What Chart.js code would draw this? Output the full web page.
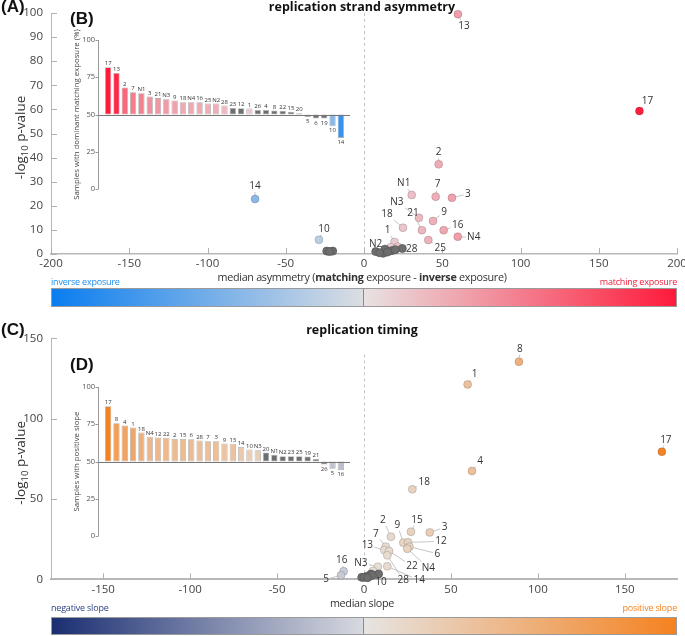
<!DOCTYPE html>
<html>
<head>
<meta charset="utf-8">
<script src="https://cdn.jsdelivr.net/npm/chart.js@4.4.1/dist/chart.umd.min.js"></script>
<style>
    body { margin: 0; background: #fff; font-family: 'Open Sans', sans-serif; }
    #fig { position: relative; width: 685px; height: 636px; overflow: hidden; }
    #fig canvas { position: absolute; }
    .txt { position: absolute; white-space: nowrap; color: #333; line-height: 14px; }
    .letter { font: bold 17px 'Liberation Sans', Arial, sans-serif; color: #111; line-height: 18px; }
    .ttl { left: 0; width: 724px; text-align: center; font-weight: bold; font-size: 12.5px; color: #111; }
    .xt { left: 0; width: 724px; text-align: center; font-size: 10.8px; letter-spacing: -0.3px; }
    .leg { font-size: 9px; letter-spacing: -0.2px; }
    .cbar { position: absolute; left: 51px; width: 626px; height: 19px; border: 1px solid #9a9a9a; box-sizing: border-box; }
    .cbar .mid { position: absolute; left: 311px; top: 0; width: 1px; height: 100%; background: #8a8a8a; }
</style>
</head>
<body>
<div id="fig">
    <canvas id="strandScatter" width="685" height="275" style="left:0;top:0"></canvas>
    <canvas id="strandBars" width="360" height="200" style="left:0;top:0"></canvas>
    <canvas id="timingScatter" width="685" height="280" style="left:0;top:320px"></canvas>
    <canvas id="timingBars" width="360" height="200" style="left:0;top:347px"></canvas>

    <div class="txt letter" style="left:1px;top:-2px">(A)</div>
    <div class="txt letter" style="left:70px;top:10px">(B)</div>
    <div class="txt letter" style="left:1px;top:321px">(C)</div>
    <div class="txt letter" style="left:70px;top:356px">(D)</div>

    <div class="txt ttl" style="top:0px">replication strand asymmetry</div>
    <div class="txt ttl" style="top:323px">replication timing</div>

    <div class="txt xt" style="top:270px">median asymmetry (<b>matching</b> exposure - <b>inverse</b> exposure)</div>
    <div class="txt leg" style="left:51px;top:275px;color:#1a8cf0">inverse exposure</div>
    <div class="txt leg" style="right:8px;top:275px;color:#f0203c">matching exposure</div>
    <div class="cbar" style="top:288px;background:linear-gradient(to right,#0a7df0 0%,#dcdee2 50%,#e8e2e2 50%,#ff1a3a 100%)"><div class="mid"></div></div>

    <div class="txt xt" style="top:596px">median slope</div>
    <div class="txt leg" style="left:51px;top:601px;color:#2b3f80">negative slope</div>
    <div class="txt leg" style="right:8px;top:601px;color:#f5821f">positive slope</div>
    <div class="cbar" style="top:617px;height:18px;background:linear-gradient(to right,#1a2e72 0%,#d8dae0 50%,#e6e4e2 50%,#f58220 100%)"><div class="mid"></div></div>
</div>

<script>
// panel A: replication strand asymmetry
const strandLabels = ['13', '17', '2', 'N1', '7', '3', 'N3', '9', '21', '18', '16', 'N4', '25', '1', 'N2', '28', '14', '10',
    '5', '6', '19', '23', '12', '26', '4', '8', '22', '15', '20'];
const strandX = [60, 176, 47.7, 30.5, 45.8, 56.2, 35.1, 44.1, 37, 24.9, 50.9, 59.9, 41.1, 19.5, 17, 21.5, -69.6, -28.8,
    -23.8, -20, -22, 7.5, 12.3, 13.4, 17.7, 24.5, 15, 20, 10];
const strandY = [99.5, 59.3, 37.2, 24.5, 23.8, 23.3, 15, 13.7, 9.9, 10.9, 9.9, 7.2, 5.8, 5.0, 2.8, 3.0, 22.8, 5.9,
    1.2, 1.2, 1.0, 1, 0.3, 2, 1.4, 2.3, 0.8, 1.8, 0.5];
const strandNonSig = ['23', '12', '26', '4', '8', '22', '15', '20', '5', '6', '19'];

// panel B: samples with dominant matching exposure (%)
const strandBarLabels = ['17', '13', '2', '7', 'N1', '3', '21', 'N3', '9', '18', 'N4', '16', '25', 'N2', '28',
    '23', '12', '1', '26', '4', '8', '22', '15', '20', '5', '6', '19', '10', '14'];
const strandBarPct = [81.7, 77.9, 68.1, 65, 64.3, 62.1, 61, 60.3, 59.4, 58.3, 58.3, 58.3, 57.4, 57.4, 56,
    54.4, 54.2, 54, 53.1, 53.1, 52.7, 52.5, 51.8, 50.9, 48.4, 47.3, 47.3, 42.1, 34.3];

// panel C: replication timing
const timingLabels = ['8', '1', '17', '4', '18', '15', '3', '2', '9', '12', '6', 'N4', '7', '13', '22', '28', '14', 'N3', '10', '16', '5',
    '20', 'N1', 'N2', '23', '25', '19', '21', '26'];
const timingX = [89.1, 59.6, 171.3, 62.1, 27.8, 27, 37.8, 15.5, 22.6, 25.3, 26.1, 24.9, 12.5, 11.7, 14.4, 13.4, 13.4, 8, 5.2, -11.7, -13.2,
    8.4, 4, 1.2, -1.3, 2.9, 0, 4.8, 2];
const timingY = [135.4, 121.3, 79.4, 67.4, 56, 29.6, 29.2, 26.5, 22.8, 23, 20.3, 19, 20.3, 18.2, 17.6, 14.9, 8.1, 7.8, 5.2, 5, 2.5,
    3.3, 3.3, 1.7, 1.2, 1.7, 1.2, 2.5, 1];
const timingNonSig = ['20', 'N1', 'N2', '23', '25', '19', '21', '26'];

// panel D: samples with positive slope (%)
const timingBarLabels = ['17', '8', '4', '1', '18', 'N4', '12', '22', '2', '15', '6', '28', '7', '3', '9', '13', '14', '10', 'N3',
    '20', 'N1', 'N2', '23', '25', '19', '21', '26', '5', '16'];
const timingBarPct = [87.1, 75.7, 74.2, 72.8, 69.5, 66.6, 66.1, 65.9, 65.2, 65.2, 65, 64.1, 63.6, 63.6, 62.1, 61.9, 59.8, 58.1, 57.6,
    56, 54.5, 53.6, 53.6, 53.6, 53.4, 51.6, 48, 45.1, 44.2];

// label placement (pixels from the point)
const strandLabelOffsets = {
    '13': [6, 12], '17': [8, -10], '2': [0, -12], 'N1': [-8, -12], '7': [2, -12], '3': [16, -4], 'N3': [-22, -16],
    '9': [11, -9], '21': [-9, -17], '18': [-16, -14], '16': [14, -5], 'N4': [16, 1], '25': [12, 8], '1': [-7, -12],
    'N2': [-15, -3], '28': [14, 2], '14': [0, -13], '10': [5, -11]
};
const timingLabelOffsets = {
    '8': [1, -13], '1': [7, -10], '17': [4, -12], '4': [8, -10], '18': [12, -7], '15': [6, -12], '3': [15, -5],
    '2': [-8, -17], '9': [-6, -18], '12': [33, -1], '6': [28, 7], 'N4': [21, 19], '7': [-10, -13], '13': [-17, -5],
    '22': [23, 15], '28': [16, 25], '14': [32, 14], 'N3': [-17, -4], '10': [8, 11], '16': [-2, -11], '5': [-15, 4]
};

Chart.defaults.font.family = "'Open Sans', sans-serif";
Chart.defaults.color = '#444';
Chart.defaults.animation = false;

const GREY = '#6e6e6e';

function mix(a, b, t) {
    t = Math.max(0, Math.min(1, t));
    return 'rgb(' + a.map((v, i) => Math.round(v + (b[i] - v) * t)).join(',') + ')';
}

function strandColor(t) {
    return t >= 0 ? mix([232, 224, 225], [255, 26, 58], t) : mix([220, 222, 226], [10, 125, 240], -t);
}

function timingColor(t) {
    return t >= 0 ? mix([230, 226, 222], [245, 130, 32], t) : mix([214, 216, 222], [26, 46, 114], -t);
}

const axisDecor = {
    id: 'axisDecor',
    beforeDatasetsDraw(chart, args, opts) {
        const { ctx, chartArea, scales: { x, y } } = chart;
        ctx.save();
        const zx = Math.round(x.getPixelForValue(0)) + 0.5;
        ctx.strokeStyle = '#c4c4c4';
        ctx.lineWidth = 1;
        ctx.setLineDash([3, 3]);
        ctx.beginPath();
        ctx.moveTo(zx, y.getPixelForValue(opts.dashTop));
        ctx.lineTo(zx, chartArea.bottom);
        ctx.stroke();
        ctx.setLineDash([]);

        // inward tick marks
        ctx.strokeStyle = '#b0b0b0';
        x.ticks.forEach(t => {
            const px = Math.round(x.getPixelForValue(t.value)) + 0.5;
            ctx.beginPath();
            ctx.moveTo(px, chartArea.bottom);
            ctx.lineTo(px, chartArea.bottom - 6);
            ctx.stroke();
        });
        y.ticks.forEach(t => {
            const py = Math.round(y.getPixelForValue(t.value)) + 0.5;
            ctx.beginPath();
            ctx.moveTo(chartArea.left, py);
            ctx.lineTo(chartArea.left + 6, py);
            ctx.stroke();
        });
        ctx.restore();
    },
    afterDraw(chart, args, opts) {
        const { ctx, chartArea } = chart;
        const cy = (chartArea.top + chartArea.bottom) / 2 + 4;
        ctx.save();
        ctx.translate(opts.titleX, cy);
        ctx.rotate(-Math.PI / 2);
        ctx.fillStyle = '#333';
        ctx.textBaseline = 'middle';
        const big = "13.5px 'Open Sans'";
        const small = "9.5px 'Open Sans'";
        const parts = [['-log', big, 0], ['10', small, 4], [' p-value', big, 0]];
        let w = 0;
        parts.forEach(p => { ctx.font = p[1]; w += ctx.measureText(p[0]).width; });
        let cx = -w / 2;
        parts.forEach(p => {
            ctx.font = p[1];
            ctx.fillText(p[0], cx, p[2]);
            cx += ctx.measureText(p[0]).width;
        });
        ctx.restore();
    }
};

const pointLabels = {
    id: 'pointLabels',
    beforeDatasetsDraw(chart, args, opts) {
        const { ctx, scales: { x, y } } = chart;
        ctx.save();
        ctx.font = "10px 'Open Sans'";
        ctx.strokeStyle = '#b8b8b8';
        ctx.lineWidth = 0.8;
        chart.data.datasets.forEach(ds => ds.data.forEach(p => {
            const off = opts.offsets[p.label];
            if (!off) return;
            const px = x.getPixelForValue(p.x), py = y.getPixelForValue(p.y);
            const len = Math.hypot(off[0], off[1]);
            const hw = ctx.measureText(p.label).width / 2 + 1.5, hh = 6;
            const sx = off[0] ? hw * len / Math.abs(off[0]) : Infinity;
            const sy = off[1] ? hh * len / Math.abs(off[1]) : Infinity;
            const shrink = Math.min(sx, sy);
            if (len - shrink < 4) return;
            const k = (len - shrink) / len;
            ctx.beginPath();
            ctx.moveTo(px, py);
            ctx.lineTo(px + off[0] * k, py + off[1] * k);
            ctx.stroke();
        }));
        ctx.restore();
    },
    afterDatasetsDraw(chart, args, opts) {
        const { ctx, scales: { x, y } } = chart;
        ctx.save();
        ctx.font = "10px 'Open Sans'";
        ctx.fillStyle = '#333';
        ctx.textAlign = 'center';
        ctx.textBaseline = 'middle';
        chart.data.datasets.forEach(ds => ds.data.forEach(p => {
            const off = opts.offsets[p.label];
            if (!off) return;
            ctx.fillText(p.label, x.getPixelForValue(p.x) + off[0], y.getPixelForValue(p.y) + off[1]);
        }));
        ctx.restore();
    }
};

const insetDecor = {
    id: 'insetDecor',
    afterDatasetsDraw(chart) {
        const { ctx, chartArea, scales: { x, y } } = chart;
        const ax = chartArea.left - 5.5;
        ctx.save();
        ctx.strokeStyle = '#9a9a9a';
        ctx.lineWidth = 1;
        ctx.beginPath();
        ctx.moveTo(ax, y.getPixelForValue(100));
        ctx.lineTo(ax, y.getPixelForValue(0));
        ctx.stroke();
        [0, 25, 50, 75, 100].forEach(v => {
            const py = Math.round(y.getPixelForValue(v)) + 0.5;
            ctx.beginPath();
            ctx.moveTo(ax - 3, py);
            ctx.lineTo(ax, py);
            ctx.stroke();
        });
        const by = Math.round(y.getPixelForValue(50)) + 0.5;
        ctx.strokeStyle = '#777';
        ctx.beginPath();
        ctx.moveTo(ax, by);
        ctx.lineTo(chartArea.right + 5, by);
        ctx.stroke();

        ctx.font = "6px 'Open Sans'";
        ctx.fillStyle = '#333';
        ctx.textAlign = 'center';
        chart.data.datasets[0].data.forEach((d, i) => {
            const px = x.getPixelForValue(i);
            const v = d[1];
            if (v >= 50) {
                ctx.textBaseline = 'bottom';
                ctx.fillText(chart.data.labels[i], px, y.getPixelForValue(v) - 0.5);
            } else {
                ctx.textBaseline = 'top';
                ctx.fillText(chart.data.labels[i], px, y.getPixelForValue(v) + 1.5);
            }
        });
        ctx.restore();
    }
};

function scatterChart(canvas, cfg) {
    const pts = cfg.labels.map((l, i) => ({ x: cfg.xs[i], y: cfg.ys[i], label: l }));
    const grey = pts.filter(p => cfg.nonSig.includes(p.label));
    const sig = pts.filter(p => !cfg.nonSig.includes(p.label));

    return new Chart(canvas, {
        type: 'scatter',
        data: {
            datasets: [
                {
                    data: grey,
                    backgroundColor: GREY,
                    borderColor: '#585858',
                    borderWidth: 0.8,
                    pointRadius: 4,
                    clip: false
                },
                {
                    data: sig,
                    backgroundColor: sig.map(p => cfg.color(p.x / cfg.colorSpan)),
                    borderColor: 'rgba(0,0,0,0.2)',
                    borderWidth: 0.8,
                    pointRadius: 4,
                    clip: false
                }
            ]
        },
        options: {
            responsive: false,
            layout: { padding: { left: 0, right: 8, top: cfg.padTop, bottom: 0 } },
            plugins: {
                legend: { display: false },
                tooltip: { enabled: false },
                axisDecor: { dashTop: cfg.dashTop, titleX: 21 },
                pointLabels: { offsets: cfg.offsets }
            },
            scales: {
                x: {
                    type: 'linear',
                    min: cfg.xMin,
                    max: cfg.xMax,
                    ticks: { stepSize: 50, includeBounds: false, padding: cfg.xTickPad, maxRotation: 0, font: { size: 11.5 }, color: '#444' },
                    grid: { display: false, drawTicks: false, tickLength: 0 },
                    border: { color: '#b8b8b8', width: cfg.xBorder },
                    afterFit: s => { s.height = cfg.xHeight; s.paddingLeft = 0; s.paddingRight = 0; }
                },
                y: {
                    type: 'linear',
                    min: 0,
                    max: cfg.yMax,
                    ticks: { stepSize: cfg.yStep, padding: 8, font: { size: 11.5 }, color: '#444' },
                    grid: { display: false, drawTicks: false, tickLength: 0 },
                    border: { color: '#b8b8b8', width: 1 },
                    afterFit: s => { s.width = 51; s.paddingTop = 0; s.paddingBottom = 0; }
                }
            }
        },
        plugins: [axisDecor, pointLabels]
    });
}

function barChart(canvas, cfg) {
    return new Chart(canvas, {
        type: 'bar',
        data: {
            labels: cfg.labels,
            datasets: [{
                data: cfg.values.map(v => [50, v]),
                backgroundColor: cfg.labels.map((l, i) => cfg.nonSig.includes(l) ? GREY : cfg.color(cfg.values[i])),
                borderColor: 'rgba(80,80,80,0.45)',
                borderWidth: 0.8,
                borderSkipped: false,
                barPercentage: 0.95,
                categoryPercentage: 0.8
            }]
        },
        options: {
            responsive: false,
            layout: { padding: { left: 0, right: 15, top: 40, bottom: 11 } },
            plugins: {
                legend: { display: false },
                tooltip: { enabled: false }
            },
            scales: {
                x: { display: false },
                y: {
                    min: 0,
                    max: 100,
                    ticks: { stepSize: 25, padding: 9, font: { size: 7.5 }, color: '#555' },
                    grid: { display: false, drawTicks: false, tickLength: 0 },
                    border: { display: false },
                    title: { display: true, text: cfg.title, font: { size: 7.8 }, color: '#444', padding: { top: 72, bottom: 0 } },
                    afterFit: s => { s.width = 104; s.paddingTop = 0; s.paddingBottom = 0; }
                }
            }
        },
        plugins: [insetDecor]
    });
}

scatterChart(document.getElementById('strandScatter'), {
    labels: strandLabels, xs: strandX, ys: strandY, nonSig: strandNonSig,
    offsets: strandLabelOffsets, color: strandColor, colorSpan: 180,
    xMin: -200, xMax: 200, yMax: 100, yStep: 10, dashTop: 100,
    padTop: 13, xHeight: 21, xTickPad: 3, xBorder: 1.5
});

barChart(document.getElementById('strandBars'), {
    labels: strandBarLabels, values: strandBarPct, nonSig: strandNonSig,
    title: 'Samples with dominant matching exposure (%)',
    color: v => v >= 50 ? strandColor((v - 50) / 30) : strandColor((v - 50) / 20)
});

scatterChart(document.getElementById('timingScatter'), {
    labels: timingLabels, xs: timingX, ys: timingY, nonSig: timingNonSig,
    offsets: timingLabelOffsets, color: timingColor, colorSpan: 175,
    xMin: -180, xMax: 180, yMax: 150, yStep: 50, dashTop: 140,
    padTop: 18.3, xHeight: 20.7, xTickPad: 4, xBorder: 2
});

barChart(document.getElementById('timingBars'), {
    labels: timingBarLabels, values: timingBarPct, nonSig: timingNonSig,
    title: 'Samples with positive slope',
    color: v => v >= 50 ? timingColor((v - 50) / 37) : timingColor((v - 50) / 40)
});
</script>
</body>
</html>
